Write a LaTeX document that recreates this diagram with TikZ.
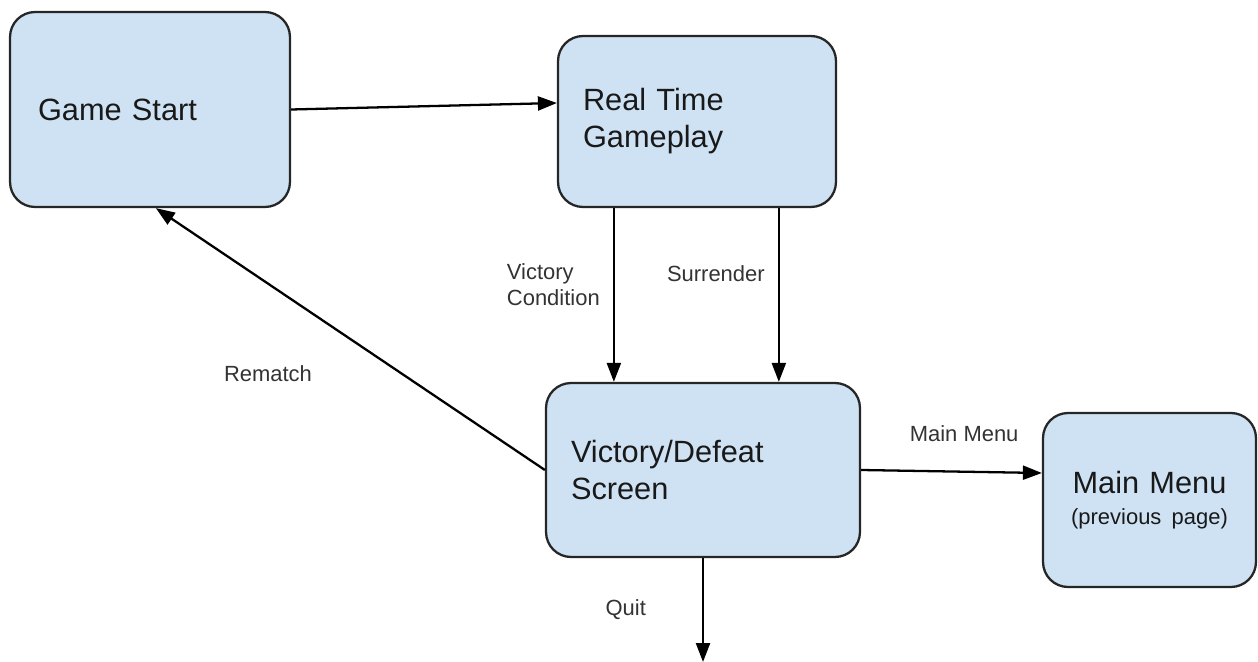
\documentclass[tikz,border=0pt]{standalone}
\usepackage{fontspec}
\setmainfont{Liberation Sans}
\usetikzlibrary{arrows.meta}
\definecolor{stateblue}{HTML}{CFE2F3}

\begin{document}
\begin{tikzpicture}[x=0.02cm,y=-0.02cm,
        state/.style={draw=black!85,line width=1.3pt,fill=stateblue,rounded corners=0.5cm,
            font=\fontsize{17.5}{21}\selectfont,text=black!90,align=left,inner ysep=0pt},
        flow/.style={line width=1.3pt,-{Triangle[length=0.38cm,width=0.28cm]}},
        lbl/.style={font=\fontsize{12.5}{15}\selectfont,text=black!80,align=left,inner sep=0pt}]
            \useasboundingbox (0,0) rectangle (1258,662);

            % states
            \node[state,inner xsep=0.56cm,text width=4.48cm,minimum height=3.9cm] (gs) at (150,109.5) {Game Start};
            \node[state,inner xsep=0.5cm,text width=4.56cm,minimum height=3.42cm] (rtg) at (697,121.5) {Real Time\\Gameplay};
            \node[state,inner xsep=0.5cm,text width=5.28cm,minimum height=3.48cm] (vd) at (703,470) {Victory/Defeat\\Screen};
            \node[state,inner xsep=0.5cm,text width=3.26cm,minimum height=3.48cm,align=center] (mm) at (1149.5,500)
                {Main Menu\\[-3pt]{\fontsize{12.5}{15}\selectfont(previous page)}};

            % transitions
            \draw[flow] (gs.east) -- ([yshift=0.37cm]rtg.west);

            \coordinate (vc) at ([xshift=1.14cm]rtg.south west);
            \draw[flow] (vc) -- (vc |- vd.north) node[lbl,pos=0.44,left=0.26cm] (vclbl) {Victory\\Condition};

            \coordinate (sc) at ([xshift=4.44cm]rtg.south west);
            \draw[flow] (sc) -- (sc |- vd.north) node[lbl,pos=0.38,left=0.26cm] (surlbl) {Surrender};

            \draw[flow] (vd.west) -- ([xshift=2.94cm]gs.south west);
            \node[lbl] (remlbl) at (268,374) {Rematch};

            \draw[flow] (vd.east) -- ([yshift=0.54cm]mm.west) node[lbl,pos=0.57,above=0.58cm] (mmlbl) {Main Menu};

            \coordinate (quitend) at (705,662);
            \draw[flow] (vd.south) -- (vd.south |- quitend) node[lbl,midway,left=1.12cm] (quitlbl) {Quit};
        \end{tikzpicture}
\end{document}
